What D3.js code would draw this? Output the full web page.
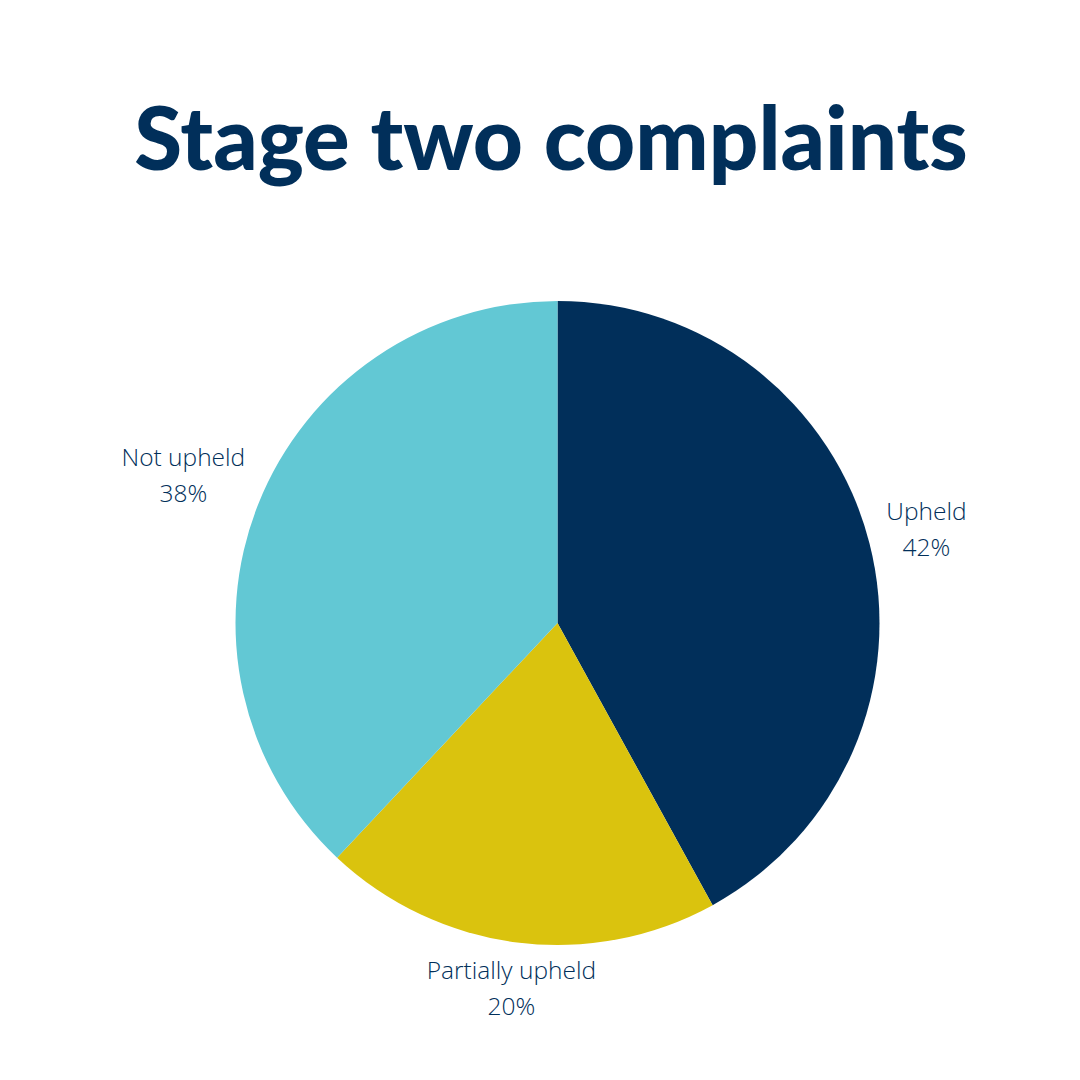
<!DOCTYPE html>
<html>
<head>
<meta charset="utf-8">
<script src="https://cdn.jsdelivr.net/npm/d3@7.9.0/dist/d3.min.js"></script>
<style>
  html, body { margin: 0; padding: 0; background: #fff; }
  svg { display: block; }
</style>
</head>
<body>
<svg id="chart" width="1080" height="1080"></svg>
<script>
// data
const categories = ["Upheld", "Partially upheld", "Not upheld"];
const values = [42, 20, 38];
const sliceColours = ["#012f5a", "#dac30e", "#62c8d4"];

const svg = d3.select("#chart");
const cx = 557.5, cy = 623, radius = 322;

// title
svg.append("text")
  .attr("x", 551)
  .attr("y", 170)
  .attr("text-anchor", "middle")
  .attr("font-family", "Lato")
  .attr("font-weight", 900)
  .attr("font-size", 87)
  .attr("fill", "#012f5a")
  .text("Stage two complaints");

const pieData = d3.pie().sort(null)(values);
const arc = d3.arc().innerRadius(0).outerRadius(radius);
const colour = d3.scaleOrdinal().domain(categories).range(sliceColours);

const g = svg.append("g").attr("transform", `translate(${cx},${cy})`);

g.selectAll("path")
  .data(pieData)
  .join("path")
  .attr("d", arc)
  .attr("fill", (d, i) => colour(categories[i]));

// labels: two-line blocks pushed out along the slice's mid angle
// until their box clears the rim by a small gap
const labels = g.selectAll("text.lbl")
  .data(pieData)
  .join("text")
  .attr("class", "lbl")
  .attr("text-anchor", "middle")
  .attr("font-family", "Open Sans")
  .attr("font-weight", 300)
  .attr("font-size", 24.5)
  .attr("fill", "#012f5a");

labels.append("tspan").attr("x", 0).attr("dy", "-0.35em").text((d, i) => categories[i]);
labels.append("tspan").attr("x", 0).attr("dy", "1.47em").text(d => d.data + "%");

labels.attr("transform", function(d) {
  const a = (d.startAngle + d.endAngle) / 2;
  const halfW = this.getBBox().width / 2;
  const halfH = 25;
  const r = radius + 10 + Math.abs(Math.sin(a)) * (halfW + 4) + Math.abs(Math.cos(a)) * halfH;
  return `translate(${r * Math.sin(a)},${-r * Math.cos(a)})`;
});
</script>
</body>
</html>
